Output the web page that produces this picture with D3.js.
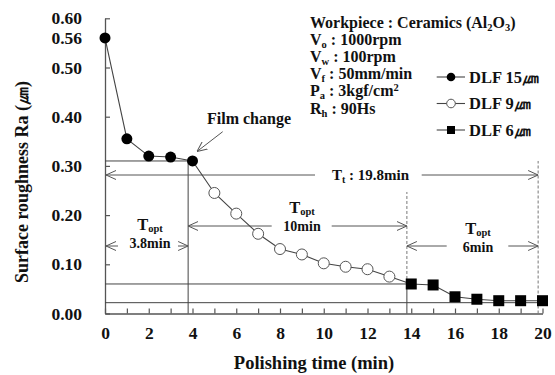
<!DOCTYPE html>
<html>
<head>
<meta charset="utf-8">
<script src="https://cdn.jsdelivr.net/npm/d3@7"></script>
<style>
  html, body { margin: 0; padding: 0; background: #fff; }
  svg { display: block; }
  svg text { font-family: "Liberation Serif", "Times New Roman", serif; font-weight: bold; fill: #111; }
</style>
</head>
<body>
<svg id="chart" width="555" height="375"></svg>
<script>
// Polishing time (min) and surface roughness Ra (µm) for each lapping film
const time15 = [0, 1, 2, 3, 4];
const ra15 = [0.56, 0.355, 0.32, 0.318, 0.31];
const time9 = [5, 6, 7, 8, 9, 10, 11, 12, 13];
const ra9 = [0.245, 0.203, 0.162, 0.131, 0.12, 0.102, 0.095, 0.09, 0.075];
const time6 = [14, 15, 16, 17, 18, 19, 20];
const ra6 = [0.06, 0.058, 0.034, 0.029, 0.026, 0.026, 0.026];

const seriesNames = ["DLF 15\u339B", "DLF 9\u339B", "DLF 6\u339B"];
const xTicks = d3.range(0, 21, 1);
const yTicks = [0, 0.1, 0.2, 0.3, 0.4, 0.5, 0.56, 0.6];

// Optimal polishing times and reference levels
const changeTimes = [3.8, 13.8, 19.8];
const levelRa = [0.31, 0.06, 0.022];
const totalTime = "19.8min";
const optTimes = ["3.8min", "10min", "6min"];

const FONT = "'Liberation Serif', 'Times New Roman', serif";
const svg = d3.select("#chart").attr("font-family", FONT).attr("font-weight", "bold");
const x = d3.scaleLinear().domain([0, 20]).range([105, 542.5]);
const y = d3.scaleLinear().domain([0, 0.6]).range([313.5, 18.3]);

const ink = "#444";
const fs = 17.5;

// arrowhead marker (open chevron)
const defs = svg.append("defs");
defs.append("marker")
  .attr("id", "chev")
  .attr("viewBox", "0 0 10 10")
  .attr("refX", 10).attr("refY", 5)
  .attr("markerWidth", 10).attr("markerHeight", 10)
  .attr("markerUnits", "userSpaceOnUse")
  .attr("orient", "auto-start-reverse")
  .append("path")
  .attr("d", "M0,0.5 L10,5 L0,9.5")
  .attr("fill", "none").attr("stroke", "#555").attr("stroke-width", 1);

// axes
const xAxis = d3.axisBottom(x).tickValues(xTicks)
  .tickFormat(d => d % 2 === 0 ? d : "")
  .tickSizeInner(-5).tickSizeOuter(0).tickPadding(13);
const gx = svg.append("g").attr("transform", `translate(0,${y(0)})`).call(xAxis);

const yAxis = d3.axisLeft(y).tickValues(yTicks)
  .tickFormat(d3.format(".2f"))
  .tickSizeInner(-5).tickSizeOuter(0).tickPadding(23);
const gy = svg.append("g").attr("transform", `translate(${x(0)},0)`).call(yAxis);

[gx, gy].forEach(g => {
  g.attr("font-family", FONT).attr("font-size", fs);
  g.select(".domain").attr("stroke", "#555").attr("stroke-width", 1.3);
  g.selectAll(".tick line").attr("stroke", "#555").attr("stroke-width", 1.2);
  g.selectAll(".tick text").attr("font-weight", "bold").attr("font-size", fs);
});
gy.selectAll(".tick").filter(d => d === 0.56).select("line").remove();

// axis titles
svg.append("text").attr("x", 314).attr("y", 369)
  .attr("text-anchor", "middle").attr("font-size", 18.5).text("Polishing time (min)");
svg.append("text").attr("transform", "translate(28,182) rotate(-90)")
  .attr("text-anchor", "middle").attr("font-size", 18).text("Surface roughness Ra (\u339B)");

// reference lines
const ref = svg.append("g").attr("stroke", ink).attr("stroke-width", 1).attr("fill", "none");
ref.append("line").attr("x1", x(0)).attr("x2", x(4)).attr("y1", y(levelRa[0])).attr("y2", y(levelRa[0]));
ref.append("line").attr("x1", x(0)).attr("x2", x(14)).attr("y1", y(levelRa[1])).attr("y2", y(levelRa[1]));
ref.append("line").attr("x1", x(0)).attr("x2", x(20)).attr("y1", y(levelRa[2])).attr("y2", y(levelRa[2]));
ref.append("line").attr("x1", x(changeTimes[0])).attr("x2", x(changeTimes[0])).attr("y1", y(0)).attr("y2", y(levelRa[0]));
ref.append("line").attr("x1", x(changeTimes[1])).attr("x2", x(changeTimes[1])).attr("y1", y(0)).attr("y2", y(levelRa[1]));
ref.append("line").attr("x1", x(changeTimes[1])).attr("x2", x(changeTimes[1])).attr("y1", y(levelRa[1])).attr("y2", y(0.247))
  .attr("stroke", "#777").attr("stroke-dasharray", "3,2");
ref.append("line").attr("x1", x(changeTimes[2])).attr("x2", x(changeTimes[2])).attr("y1", y(0)).attr("y2", y(0.31))
  .attr("stroke", "#777").attr("stroke-dasharray", "3,2");

// arrows
const arr = svg.append("g").attr("stroke", "#555").attr("stroke-width", 1).attr("fill", "none");
function arrow(x1, y1, x2, y2) {
  arr.append("line").attr("x1", x1).attr("y1", y1).attr("x2", x2).attr("y2", y2)
    .attr("marker-end", "url(#chev)");
}
// total time
const yT = 175;
arrow(315, yT, x(0) + 1, yT);
arrow(421.7, yT, x(changeTimes[2]), yT);
// first segment
const y1 = 246;
arrow(118, y1, x(0) + 1, y1);
arrow(178, y1, x(changeTimes[0]), y1);
// second segment
const y2 = 226;
arrow(271.7, y2, x(changeTimes[0]), y2);
arrow(331.7, y2, x(changeTimes[1]), y2);
// third segment
const y3 = 246;
arrow(446.7, y3, x(changeTimes[1]), y3);
arrow(508.3, y3, x(changeTimes[2]), y3);
// film change pointer
arrow(222.7, 131.7, 197, 151.5);

// annotation texts
function topt(cx, cy, val) {
  const t = svg.append("text").attr("x", cx).attr("y", cy).attr("text-anchor", "middle").attr("font-size", 16.5);
  t.append("tspan").text("T");
  t.append("tspan").attr("font-size", 10.5).attr("dy", 2).text("opt");
  svg.append("text").attr("x", cx).attr("y", cy + 18).attr("text-anchor", "middle").attr("font-size", 14).text(val);
}
topt(150, 230, optTimes[0]);
topt(302, 213, optTimes[1]);
topt(478, 234, optTimes[2]);

const tt = svg.append("text").attr("x", 332).attr("y", yT + 5).attr("font-size", 15);
tt.append("tspan").text("T");
tt.append("tspan").attr("font-size", 10).attr("dy", 3).text("t");
tt.append("tspan").attr("dy", -3).text(" : " + totalTime);

svg.append("text").attr("x", 207).attr("y", 124).attr("font-size", 16).text("Film change");

// condition block
const cond = [
  [["Workpiece : Ceramics (Al", 0], ["2", 1], ["O", 0], ["3", 1], [")", 0]],
  [["V", 0], ["o", 1], [" : 1000rpm", 0]],
  [["V", 0], ["w", 1], [" : 100rpm", 0]],
  [["V", 0], ["f", 1], ["  : 50mm/min", 0]],
  [["P", 0], ["a", 1], [" : 3kgf/cm", 0], ["2", 2]],
  [["R", 0], ["h", 1], [" : 90Hs", 0]]
];
cond.forEach((parts, i) => {
  const t = svg.append("text").attr("x", 310).attr("y", 28 + i * 17.1).attr("font-size", 16);
  let prev = 0;
  parts.forEach(([s, k]) => {
    const shift = k === 1 ? 3 : k === 2 ? -5 : 0;
    t.append("tspan").attr("dy", shift - prev)
      .attr("font-size", k ? 10.5 : 16).text(s);
    prev = shift;
  });
});

// series lines
const pts15 = time15.map((t, i) => [t, ra15[i]]);
const pts9 = time9.map((t, i) => [t, ra9[i]]);
const pts6 = time6.map((t, i) => [t, ra6[i]]);
const all = pts15.concat(pts9, pts6);
const line = d3.line().x(d => x(d[0])).y(d => y(d[1]));
svg.append("path").attr("d", line(all)).attr("fill", "none").attr("stroke", ink).attr("stroke-width", 1.1);

// markers
svg.append("g").selectAll("circle").data(pts15).join("circle")
  .attr("cx", d => x(d[0])).attr("cy", d => y(d[1])).attr("r", 5.5).attr("fill", "#000");
svg.append("g").selectAll("circle").data(pts9).join("circle")
  .attr("cx", d => x(d[0])).attr("cy", d => y(d[1])).attr("r", 5.5)
  .attr("fill", "#fff").attr("stroke", "#555").attr("stroke-width", 1);
svg.append("g").selectAll("rect").data(pts6).join("rect")
  .attr("x", d => x(d[0]) - 5.5).attr("y", d => y(d[1]) - 5.5)
  .attr("width", 11).attr("height", 11).attr("fill", "#000");

// legend
const leg = svg.append("g");
seriesNames.forEach((name, i) => {
  const ly = 77 + i * 26.5;
  leg.append("line").attr("x1", 436.7).attr("x2", 465).attr("y1", ly).attr("y2", ly)
    .attr("stroke", ink).attr("stroke-width", 1.1);
  if (i === 0) leg.append("circle").attr("cx", 451).attr("cy", ly).attr("r", 4.3).attr("fill", "#000");
  if (i === 1) leg.append("circle").attr("cx", 451).attr("cy", ly).attr("r", 4.3).attr("fill", "#fff").attr("stroke", "#555");
  if (i === 2) leg.append("rect").attr("x", 447).attr("y", ly - 4).attr("width", 8).attr("height", 8).attr("fill", "#000");
  leg.append("text").attr("x", 469).attr("y", ly + 5.5).attr("font-size", 16.5).text(name);
});
</script>
</body>
</html>
